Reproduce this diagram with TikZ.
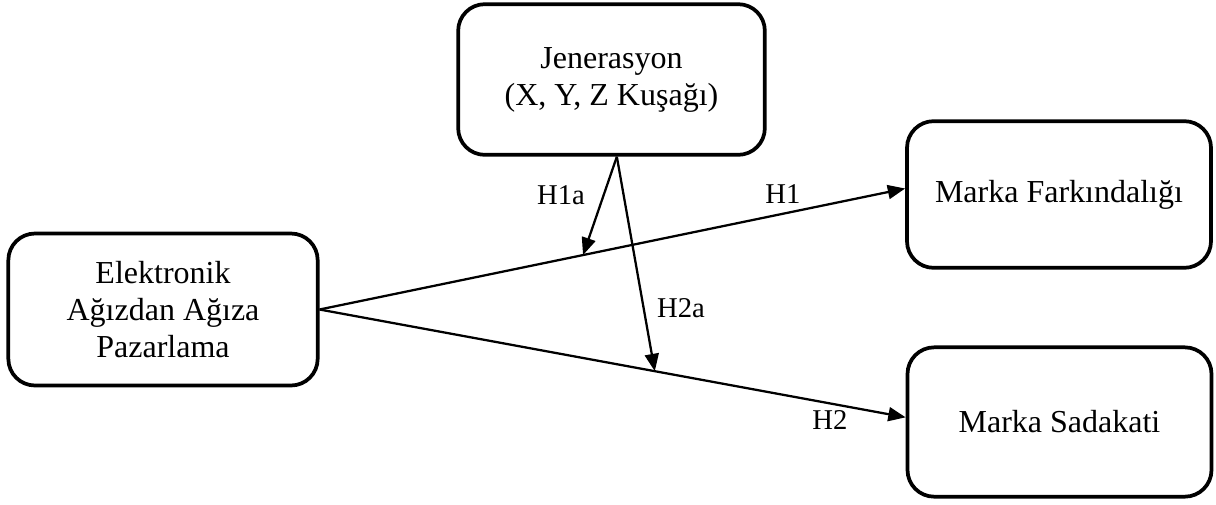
\documentclass[tikz,border=0pt]{standalone}
\usepackage{fontspec}
\setmainfont{Liberation Serif}
\usetikzlibrary{arrows.meta}

\tikzset{
  konstrukt/.style={draw,line width=2.8pt,rounded corners=20pt,align=center,
    inner sep=0pt,font=\fontsize{24}{27.75}\selectfont},
  yol/.style={line width=1.7pt,-{Triangle[length=13pt,width=10.5pt]}},
  etiket/.style={font=\fontsize{21.5}{24}\selectfont,inner sep=0pt}
}

\begin{document}
\begin{tikzpicture}[x=0.75pt,y=-0.75pt]
\useasboundingbox (0,0) rectangle (1216,504);

% kutular
\node[konstrukt,minimum width=230pt,minimum height=113pt] (jen) at (611.5,79.5)
  {Jenerasyon\\(X, Y, Z Kuşağı)};
\node[konstrukt,minimum width=232pt,minimum height=114pt] (ewom) at (163,309.5)
  {Elektronik\\Ağızdan Ağıza\\Pazarlama};
\node[konstrukt,minimum width=228pt,minimum height=110pt] (aware) at (1059,194.5)
  {Marka Farkındalığı};
\node[konstrukt,minimum width=228pt,minimum height=112pt] (sad) at (1059.5,422)
  {Marka Sadakati};

% ana yollar
\draw[yol] (ewom.east) -- coordinate[pos=0.45] (m1) ([yshift=4.5pt]aware.west);
\draw[yol] (ewom.east) -- coordinate[pos=0.572] (m2) ([yshift=3.5pt]sad.west);

% moderator yollari
\draw[yol] ([xshift=4pt]jen.south) -- (m1);
\draw[yol] ([xshift=4pt]jen.south) -- (m2);

% etiketler
\node[etiket] (h1) at (783,194) {H1};
\node[etiket] (h2) at (830,420) {H2};
\node[etiket] (h1a) at (561,195) {H1a};
\node[etiket] (h2a) at (681,308) {H2a};
\end{tikzpicture}
\end{document}
